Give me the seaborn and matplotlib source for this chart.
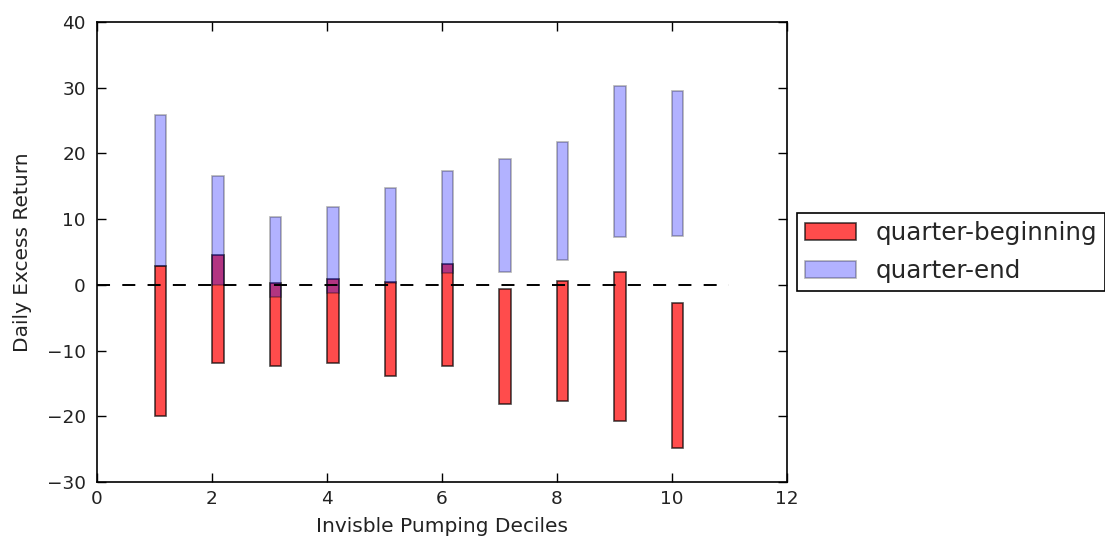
import numpy as np
import pandas as pd

import matplotlib
matplotlib.use('Agg')
import matplotlib.pyplot as plt
import seaborn as sns

# interval per decile
deciles = [1, 2, 3, 4, 5, 6, 7, 8, 9, 10]

begin_low = [-20.0, -11.9, -12.3, -11.9, -13.8, -12.3, -18.2, -17.6, -20.7, -24.8]
begin_high = [2.9, 4.6, 0.3, 0.9, 0.4, 3.15, -0.65, 0.65, 1.9, -2.7]

end_low = [2.9, 0.0, -1.9, -1.3, 0.3, 1.8, 1.9, 3.8, 7.3, 7.5]
end_high = [25.8, 16.6, 10.4, 11.9, 14.8, 17.3, 19.2, 21.7, 30.2, 29.5]

BAR_W = 0.2

sns.set_style('ticks', {'xtick.direction': 'in', 'ytick.direction': 'in',
                        'axes.edgecolor': 'black'})
plt.rcParams['font.family'] = ['DejaVu Sans']


def make_frame(low, high):
    df = pd.DataFrame({'decile': deciles, 'low': low, 'high': high})
    # matplotlib 1.x bars were edge aligned, so shift the centre by half a bar
    df['center'] = df['decile'] + BAR_W / 2
    df['height'] = df['high'] - df['low']
    return df


qb = make_frame(begin_low, begin_high)
qe = make_frame(end_low, end_high)

fig = plt.figure(figsize=(11.05, 5.42), dpi=100)
ax = fig.add_axes([0.0878, 0.1107, 0.6244, 0.8487])

sns.barplot(data=qb, x='center', y='height', bottom=qb['low'], native_scale=True,
            width=BAR_W, color='red', saturation=1, alpha=0.7, edgecolor='black',
            linewidth=1.2, errorbar=None, label='quarter-beginning', ax=ax)
sns.barplot(data=qe, x='center', y='height', bottom=qe['low'], native_scale=True,
            width=BAR_W, color='blue', saturation=1, alpha=0.3, edgecolor='black',
            linewidth=1.2, errorbar=None, label='quarter-end', ax=ax)

sns.lineplot(x=[0, 11], y=[0, 0], color='black', linewidth=1.4, ax=ax)
ax.lines[-1].set_linestyle((0, (6.7, 6.3)))

ax.set_xlim(0, 12)
ax.set_ylim(-30, 40)
ax.set_xticks(range(0, 13, 2))
ax.set_xticklabels([str(v) for v in range(0, 13, 2)])
ax.set_yticks(range(-30, 41, 10))
ax.tick_params(top=True, right=True, labelsize=13.3, length=6.5, width=1, colors='black',
               labelcolor='#222222')
ax.tick_params(axis='y', pad=8)
ax.tick_params(axis='x', pad=6)
for s in ax.spines.values():
    s.set_linewidth(1.2)
    s.set_color('black')

ax.set_xlabel('Invisble Pumping Deciles', fontsize=14.5, color='#222222', labelpad=6)
ax.set_ylabel('Daily Excess Return', fontsize=14.5, color='#222222', labelpad=11)

leg = ax.legend(loc='center left', bbox_to_anchor=(1.015, 0.5), borderaxespad=0,
                fontsize=17.7, fancybox=False, framealpha=1, edgecolor='black',
                handlelength=2.05, handleheight=0.7, handletextpad=0.8,
                labelspacing=0.55, borderpad=0.33)
leg.get_frame().set_linewidth(1.2)

fig.savefig('out.png', dpi=100)
